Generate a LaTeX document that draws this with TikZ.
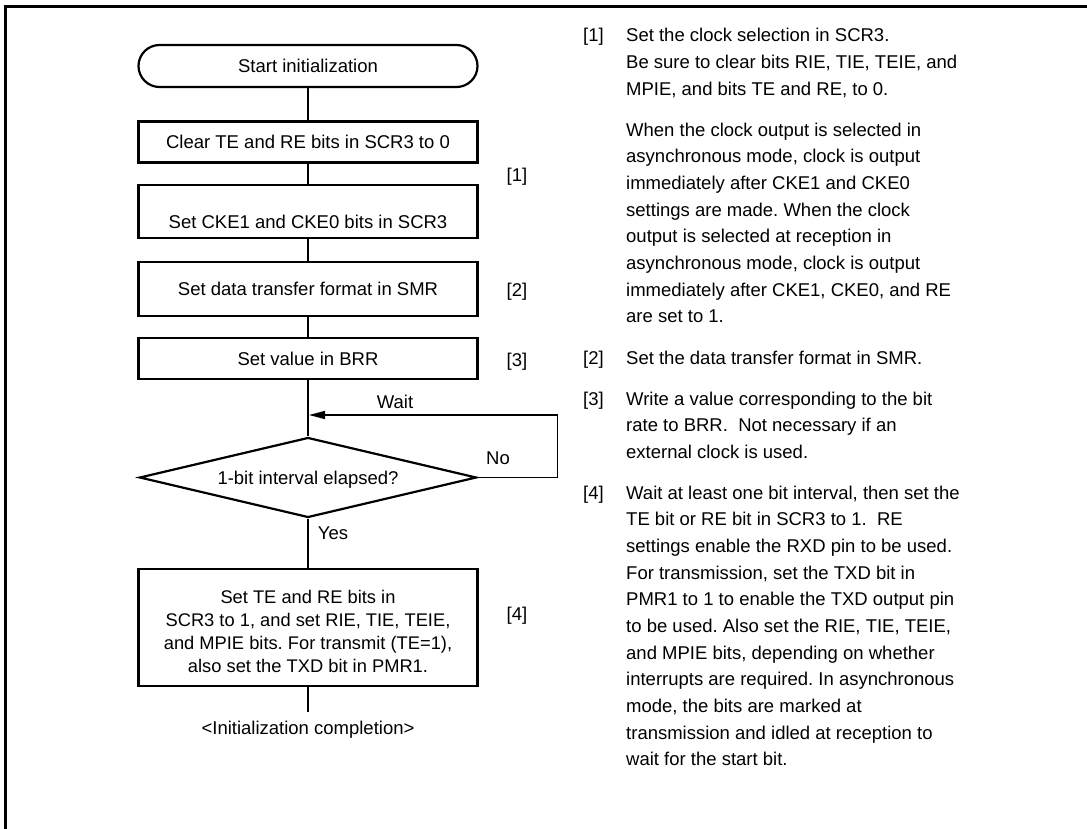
\documentclass[tikz,border=0pt]{standalone}
\usepackage{fontspec}
\setmainfont{Liberation Sans}
\usetikzlibrary{arrows.meta}
\usetikzlibrary{shapes.geometric}
\frenchspacing

\begin{document}
\begin{tikzpicture}[x=1pt,y=-1pt,
  font=\fontsize{18.5}{26.67}\selectfont,
  boxline/.style={draw,line width=2.2pt,inner sep=0pt,minimum width=339pt},
  stepbox/.style={boxline,text height=13.2pt,text depth=0pt},
  termbox/.style={stepbox,rounded corners=21pt,minimum height=42pt},
  decision/.style={diamond,draw,line width=2.2pt,inner sep=0pt,shape aspect=4.2,
    minimum width=337pt,minimum height=80pt,text height=13.2pt,text depth=0pt},
  tag/.style={inner sep=0pt,text height=13.2pt,text depth=0pt},
  note/.style={anchor=north west,inner sep=0pt,align=left},
  link/.style={line width=1.3pt}]
\useasboundingbox (0,0) rectangle (1087,829);
%frame
\draw[line width=2.7pt] (5.3,829) -- (5.3,6.5) -- (1087,6.5);
%flow
\node[termbox] (start) at (308,66) {Start initialization};
\node[stepbox,minimum height=41pt] (clear) at (308,142) {Clear TE and RE bits in SCR3 to 0};
\node[stepbox,minimum height=53pt,text height=33.4pt] (cke) at (308,211.5) {Set CKE1 and CKE0 bits in SCR3};
\node[stepbox,minimum height=54pt] (fmt) at (308,289) {Set data transfer format in SMR};
\node[stepbox,minimum height=41pt] (brr) at (308,358.5) {Set value in BRR};
\node[decision] (elapsed) at (308,477.5) {1-bit interval elapsed?};
\node[boxline,minimum height=117pt,align=center,font=\fontsize{18.3}{23}\selectfont] (enable) at (308,627.5)
  {\rule{0pt}{22pt}Set TE and RE bits in\\SCR3 to 1, and set RIE, TIE, TEIE,\\and MPIE bits. For transmit (TE=1),\\also set the TXD bit in PMR1.};
\node[tag] (done) at (308,728) {<Initialization completion>};
\coordinate (finish) at (308,712);
\coordinate (merge) at (309,415);
%step tags
\node[tag] (t1) at (517,175) {[1]};
\node[tag] (t2) at (517,290) {[2]};
\node[tag] (t3) at (517,360) {[3]};
\node[tag] (t4) at (517,614) {[4]};
\node[tag] (wait) at (395,402) {Wait};
\node[tag] (no) at (498,458) {No};
\node[tag] (yes) at (333,533) {Yes};
%edges
\draw[link] (start) -- (clear);
\draw[link] (clear) -- (cke);
\draw[link] (cke) -- (fmt);
\draw[link] (fmt) -- (brr);
\draw[link] (brr) -- (elapsed);
\draw[link] (elapsed) -- (enable);
\draw[link] (enable) -- (finish);
\draw[link,-{Triangle[length=16pt,width=8pt]}] (elapsed.east) -- ++(80,0) |- (merge);
%notes
\node[note] (k1) at (583,28.2) {\rule{0pt}{13.5pt}[1]};
\node[note] (p1) at (626,28.2) {\rule{0pt}{13.5pt}Set the clock selection in SCR3.\\Be sure to clear bits RIE, TIE, TEIE, and\\MPIE, and bits TE and RE, to 0.};
\node[note] (p1b) at (626,122.5) {\rule{0pt}{13.5pt}When the clock output is selected in\\asynchronous mode, clock is output\\immediately after CKE1 and CKE0\\settings are made. When the clock\\output is selected at reception in\\asynchronous mode, clock is output\\immediately after CKE1, CKE0, and RE\\are set to 1.};
\node[note] (k2) at (583,350.5) {\rule{0pt}{13.5pt}[2]};
\node[note] (p2) at (626,350.5) {\rule{0pt}{13.5pt}Set the data transfer format in SMR.};
\node[note] (k3) at (583,391.5) {\rule{0pt}{13.5pt}[3]};
\node[note] (p3) at (626,391.5) {\rule{0pt}{13.5pt}Write a value corresponding to the bit\\rate to BRR.\ \ Not necessary if an\\external clock is used.};
\node[note] (k4) at (583,485.5) {\rule{0pt}{13.5pt}[4]};
\node[note] (p4) at (626,485.5) {\rule{0pt}{13.5pt}Wait at least one bit interval, then set the\\TE bit or RE bit in SCR3 to 1.\ \ RE\\settings enable the RXD pin to be used.\\For transmission, set the TXD bit in\\PMR1 to 1 to enable the TXD output pin\\to be used. Also set the RIE, TIE, TEIE,\\and MPIE bits, depending on whether\\interrupts are required. In asynchronous\\mode, the bits are marked at\\transmission and idled at reception to\\wait for the start bit.};
\end{tikzpicture}
\end{document}
